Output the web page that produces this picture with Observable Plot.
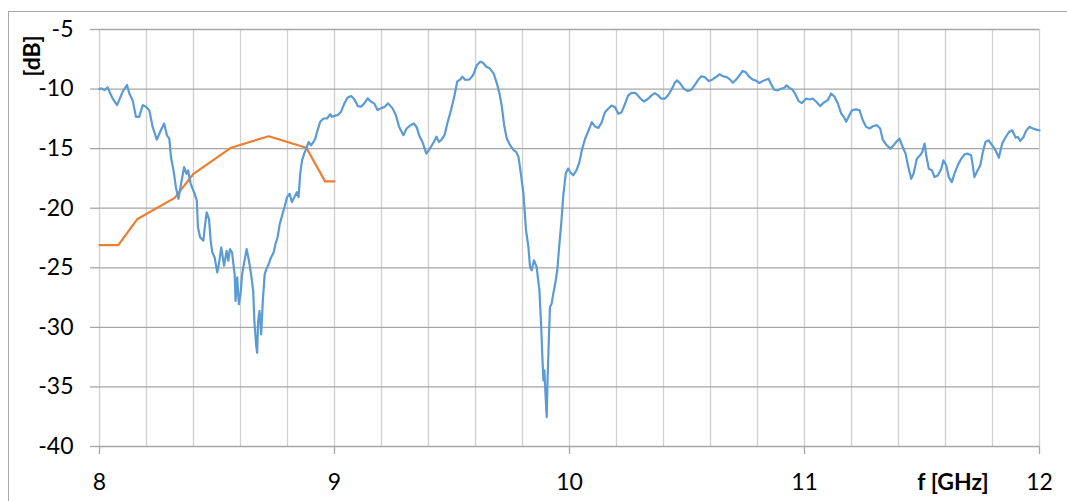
<!DOCTYPE html>
<html>
<head>
<meta charset="utf-8">
<script src="https://cdn.jsdelivr.net/npm/d3@7"></script>
<script src="https://cdn.jsdelivr.net/npm/@observablehq/plot@0.6"></script>
<style>
  html, body { margin: 0; padding: 0; background: #fff; }
  #wrap { position: relative; width: 1067px; height: 501px; overflow: hidden; background: #fff; font-family: Lato, "Open Sans", sans-serif; }
  #frame { position: absolute; left: 8px; top: 11px; width: 1100px; height: 600px; border-top: 1px solid #a6a6a6; border-left: 1px solid #a6a6a6; box-sizing: border-box; }
  #chart { position: absolute; left: 0; top: 0; }
  .lbl { position: absolute; font-weight: bold; font-size: 23px; color: #000; white-space: nowrap; line-height: 1; }
  #ylab { left: 31px; top: 56px; transform: translate(-50%, -50%) rotate(-90deg); }
  #xlab { left: 953px; top: 470px; transform: translateX(-50%); }
</style>
</head>
<body>
<div id="wrap">
  <div id="frame"></div>
  <div id="chart"></div>
  <div class="lbl" id="ylab">[dB]</div>
  <div class="lbl" id="xlab">f [GHz]</div>
</div>
<script>
// Measured curve (blue): frequency [GHz] and level [dB]
const measFreq = [8.000,8.007,8.021,8.035,8.042,8.056,8.075,8.085,8.099,8.117,8.127,8.141,8.155,8.169,8.184,8.198,8.212,8.226,8.244,8.261,8.275,8.287,8.297,8.304,8.315,8.325,8.336,8.346,8.360,8.370,8.377,8.388,8.405,8.414,8.419,8.428,8.442,8.448,8.456,8.466,8.473,8.480,8.490,8.501,8.508,8.518,8.530,8.541,8.548,8.555,8.564,8.575,8.579,8.586,8.593,8.600,8.607,8.617,8.626,8.636,8.645,8.654,8.659,8.667,8.671,8.675,8.681,8.688,8.695,8.703,8.710,8.720,8.730,8.741,8.749,8.758,8.767,8.777,8.787,8.798,8.809,8.819,8.829,8.840,8.847,8.854,8.862,8.871,8.880,8.890,8.900,8.908,8.918,8.928,8.939,8.953,8.968,8.982,8.989,8.997,9.014,9.028,9.042,9.056,9.071,9.085,9.099,9.113,9.127,9.141,9.155,9.169,9.183,9.197,9.214,9.228,9.247,9.261,9.275,9.293,9.307,9.324,9.338,9.350,9.360,9.374,9.391,9.406,9.423,9.434,9.444,9.454,9.468,9.482,9.496,9.511,9.522,9.536,9.544,9.557,9.575,9.590,9.606,9.621,9.632,9.646,9.660,9.677,9.691,9.702,9.712,9.722,9.733,9.747,9.762,9.773,9.783,9.793,9.804,9.815,9.825,9.832,9.839,9.849,9.860,9.872,9.879,9.884,9.889,9.893,9.897,9.903,9.907,9.912,9.917,9.924,9.931,9.938,9.948,9.956,9.966,9.973,9.984,9.994,10.004,10.016,10.030,10.042,10.052,10.066,10.081,10.095,10.109,10.123,10.137,10.151,10.165,10.179,10.194,10.208,10.222,10.236,10.250,10.264,10.282,10.299,10.316,10.335,10.349,10.363,10.377,10.391,10.405,10.419,10.434,10.448,10.458,10.472,10.486,10.504,10.518,10.532,10.546,10.561,10.575,10.593,10.607,10.624,10.638,10.653,10.669,10.684,10.695,10.709,10.723,10.737,10.749,10.763,10.780,10.797,10.808,10.822,10.836,10.847,10.857,10.871,10.886,10.900,10.914,10.924,10.935,10.949,10.960,10.975,10.989,11.007,11.021,11.035,11.050,11.067,11.081,11.099,11.113,11.128,11.142,11.156,11.167,11.177,11.191,11.203,11.220,11.234,11.248,11.262,11.277,11.291,11.308,11.322,11.333,11.350,11.365,11.379,11.390,11.404,11.418,11.430,11.440,11.454,11.464,11.478,11.492,11.501,11.511,11.518,11.529,11.543,11.553,11.567,11.582,11.591,11.603,11.614,11.627,11.638,11.652,11.667,11.681,11.695,11.709,11.716,11.723,11.733,11.748,11.759,11.770,11.784,11.799,11.813,11.827,11.841,11.855,11.870,11.884,11.898,11.908,11.918,11.932,11.943,11.957,11.972,11.986,12.000];
const measDb = [-10.0,-9.94,-10.08,-9.86,-10.2,-10.8,-11.35,-10.87,-10.2,-9.66,-10.37,-10.93,-12.33,-12.33,-11.35,-11.49,-11.77,-13.17,-14.24,-13.46,-12.89,-13.88,-14.16,-15.70,-16.83,-18.23,-19.21,-18.09,-16.54,-17.11,-16.83,-17.95,-18.79,-19.35,-21.6,-22.44,-22.72,-21.6,-20.34,-20.9,-22.72,-23.7,-24.13,-25.39,-24.69,-23.29,-24.83,-23.57,-24.41,-23.43,-23.71,-25.53,-27.78,-25.81,-28.06,-27.22,-25.53,-24.41,-23.43,-24.41,-25.53,-26.94,-29.47,-31.57,-32.13,-29.47,-28.62,-30.59,-27.78,-25.53,-25.11,-24.69,-24.13,-23.71,-23.0,-22.44,-21.32,-20.62,-19.92,-19.07,-18.79,-19.49,-19.07,-18.65,-19.07,-17.11,-15.98,-15.42,-15.0,-14.44,-14.72,-14.52,-14.16,-13.46,-12.75,-12.47,-12.47,-12.11,-12.33,-12.27,-12.18,-11.9,-11.2,-10.7,-10.59,-10.87,-11.43,-11.48,-11.2,-10.78,-11.06,-11.2,-11.76,-11.62,-11.48,-11.2,-11.62,-12.18,-13.17,-13.87,-13.31,-13.03,-12.89,-13.22,-13.87,-14.43,-15.41,-14.99,-14.43,-14.0,-14.43,-14.29,-13.87,-12.75,-11.76,-10.5,-9.38,-9.19,-8.96,-9.24,-9.19,-8.82,-7.98,-7.70,-7.79,-8.12,-8.26,-8.68,-9.52,-10.36,-11.48,-13.03,-14.15,-14.71,-15.13,-15.27,-15.69,-17.09,-18.77,-21.85,-23.25,-24.93,-25.21,-24.37,-24.93,-26.89,-29.69,-32.21,-34.45,-33.61,-35.29,-37.53,-34.17,-31.09,-28.29,-28.01,-27.17,-26.47,-25.21,-23.25,-21.0,-19.05,-17.09,-16.67,-17.0,-17.23,-16.81,-16.15,-15.17,-14.19,-13.48,-12.78,-13.15,-13.26,-12.78,-11.94,-11.66,-11.38,-11.52,-12.08,-11.94,-11.24,-10.53,-10.31,-10.34,-10.73,-11.04,-10.81,-10.53,-10.34,-10.53,-10.81,-10.81,-10.53,-10.06,-9.47,-9.27,-9.55,-9.97,-10.17,-10.06,-9.69,-9.27,-8.93,-8.99,-9.33,-9.21,-8.99,-8.76,-8.93,-8.99,-9.21,-9.47,-9.21,-8.85,-8.48,-8.57,-8.93,-9.21,-9.33,-9.49,-9.33,-9.21,-9.13,-9.55,-10.06,-10.11,-9.97,-9.89,-9.69,-9.89,-10.06,-10.39,-11.01,-11.18,-10.79,-10.87,-10.79,-11.07,-11.43,-11.15,-10.93,-10.37,-10.65,-11.21,-12.05,-12.33,-12.75,-12.19,-11.77,-11.71,-11.77,-12.61,-13.17,-13.31,-13.12,-13.03,-13.31,-14.24,-14.72,-15.0,-14.72,-14.44,-14.16,-14.86,-15.42,-16.4,-17.53,-17.11,-15.84,-15.56,-15.28,-14.58,-15.56,-16.69,-16.83,-17.39,-17.25,-16.69,-15.98,-16.4,-17.39,-17.81,-17.11,-16.4,-15.84,-15.48,-15.42,-15.56,-16.4,-17.39,-16.97,-16.4,-15.28,-14.44,-14.3,-14.72,-15.14,-15.76,-14.58,-14.07,-13.6,-13.46,-14.07,-14.02,-14.35,-14.02,-13.51,-13.17,-13.31,-13.40,-13.46];

// Second curve (orange)
const simFreq = [8.00, 8.08, 8.16, 8.32, 8.40, 8.56, 8.72, 8.88, 8.96, 9.00];
const simDb   = [-23.09, -23.09, -20.93, -19.13, -17.11, -14.92, -13.96, -14.92, -17.75, -17.75];

// Axis ticks
const xMajorTicks = [8, 9, 10, 11, 12];
const xGridTicks = d3.range(0, 21).map(i => 8 + i * 0.2);
const yTicks = [-40, -35, -30, -25, -20, -15, -10, -5];

const meas = measFreq.map((f, i) => ({f, db: measDb[i]}));
const sim = simFreq.map((f, i) => ({f, db: simDb[i]}));

const chart = Plot.plot({
  width: 1067,
  height: 501,
  marginLeft: 99,
  marginRight: 28,
  marginTop: 29,
  marginBottom: 55,
  style: {fontFamily: "Lato, 'Open Sans', sans-serif", color: "#000", background: "transparent", overflow: "visible"},
  x: {domain: [8, 12]},
  y: {domain: [-40, -5]},
  marks: [
    Plot.gridX(xGridTicks, {stroke: "#d0d0d0", strokeOpacity: 1, strokeWidth: 1.3}),
    Plot.gridY(yTicks, {stroke: "#a6a6a6", strokeOpacity: 1, strokeWidth: 1.3}),
    Plot.axisY(yTicks, {tickSize: 9, tickPadding: 17, stroke: "#a6a6a6", strokeWidth: 1.3, tickFormat: d => String(d), label: null, fill: "#000"}),
    Plot.axisX(xMajorTicks, {tickSize: 8, tickPadding: 19, stroke: "#a6a6a6", strokeWidth: 1.3, tickFormat: d => String(d), label: null, fill: "#000"}),
    Plot.line(sim, {x: "f", y: "db", stroke: "#ed7d31", strokeWidth: 2.2, curve: "linear"}),
    Plot.line(meas, {x: "f", y: "db", stroke: "#5b9bd5", strokeWidth: 2.2, curve: "linear"})
  ]
});
d3.select(chart).style("font-size", "23px");
d3.select(chart).selectAll("text").style("font-size", "23px").attr("font-size", 23);
d3.select(chart).selectAll("g[aria-label$='axis tick label']").attr("font-size", 23);
document.getElementById("chart").appendChild(chart);
</script>
</body>
</html>
